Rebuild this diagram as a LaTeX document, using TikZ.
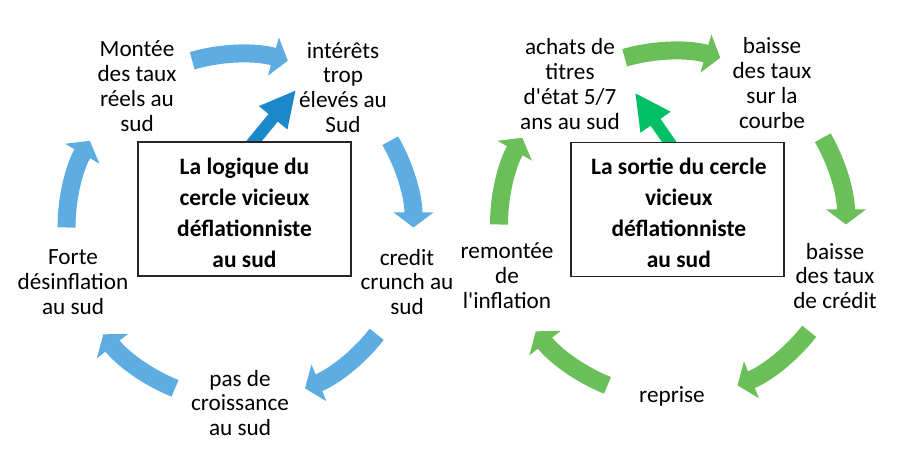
\documentclass[tikz,border=0pt]{standalone}
\usepackage{fontspec}
\setmainfont{Carlito}[Ligatures=TeXOff]
\usepackage{xcolor}
\usetikzlibrary{arrows.meta, positioning, backgrounds}
\definecolor{cycleblue}{RGB}{93,173,226}
\definecolor{pushblue}{RGB}{26,136,201}
\definecolor{cyclegreen}{RGB}{106,191,89}
\definecolor{pushgreen}{RGB}{0,192,102}

\begin{document}
\begin{tikzpicture}[x=0.75pt, y=0.75pt,
  cycletext/.style={align=center, inner sep=0pt,
    font=\fontsize{17.4}{18.6}\selectfont},
  titlebox/.style={draw=black!85, line width=0.8pt, fill=white,
    minimum width=159.75pt, minimum height=100.5pt, inner sep=0pt},
  titletext/.style={align=center, inner sep=0pt,
    font=\bfseries\fontsize{17.6}{23.25}\selectfont},
  cyclearrow/.style={line width=13.5pt,
    -{Triangle[length=11.25pt, width=29.25pt]}},
  pusharrow/.style={line width=9pt,
    -{Triangle[length=27pt, width=25.5pt]}}]
  \useasboundingbox (0,0) rectangle (914,452);

  %% Left cycle: the vicious circle
  \coordinate (lmid) at (240,224.5);
  \node[cycletext] (montee)   at (137,366)   {Montée\\des taux\\réels au\\sud};
  \node[cycletext] (interets) at (343,364.5) {intérêts\\trop\\élevés au\\Sud};
  \node[cycletext] (credit)   at (407,170)   {credit\\crunch au\\sud};
  \node[cycletext] (pasde)    at (240,49)    {pas de\\croissance\\au sud};
  \node[cycletext] (forte)    at (73,170)    {Forte\\désinflation\\au sud};
  \node[titlebox] (lbox) at (244.5,243) {};
  \node[titletext] (ltitle) at ([yshift=-2.6pt]lbox.center)
    {La logique du\\cercle vicieux\\déflationniste\\au sud};
  \foreach \s/\e in {106/74, 30/0, -38/-68, -112/-142, 180/150}
    \draw[cyclearrow, cycleblue] ([shift={(\s:173.5)}]lmid)
      arc[start angle=\s, end angle=\e, radius=173.5];
  \coordinate (ltip) at (296,362);
  \begin{scope}[on background layer]
    \draw[pusharrow, pushblue] ([xshift=2pt, yshift=-6pt]lbox.north) -- (ltip);
  \end{scope}

  %% Right cycle: the way out
  \coordinate (rmid) at (672.5,227.5);
  \node[cycletext] (achats)    at (570,368)   {achats de\\titres\\d'état 5/7\\ans au sud};
  \node[cycletext] (courbe)    at (772,369)   {baisse\\des taux\\sur la\\courbe};
  \node[cycletext] (creditbas) at (835,176)   {baisse\\des taux\\de crédit};
  \node[cycletext] (reprise)   at (672,56)    {reprise};
  \node[cycletext] (inflation) at (507,176.5) {remontée\\de\\l'inflation};
  \node[titlebox] (rbox) at (677.5,242.5) {};
  \node[titletext] (rtitle) at ([xshift=1pt, yshift=-2.3pt]rbox.center)
    {La sortie du cercle\\vicieux\\déflationniste\\au sud};
  \foreach \s/\e in {106/74, 30/0, -38/-68, -112/-142, 180/150}
    \draw[cyclearrow, cyclegreen] ([shift={(\s:173.5)}]rmid)
      arc[start angle=\s, end angle=\e, radius=173.5];
  \coordinate (rtip) at (635,359.3);
  \begin{scope}[on background layer]
    \draw[pusharrow, pushgreen] ([xshift=-2pt, yshift=-6pt]rbox.north) -- (rtip);
  \end{scope}
\end{tikzpicture}
\end{document}
